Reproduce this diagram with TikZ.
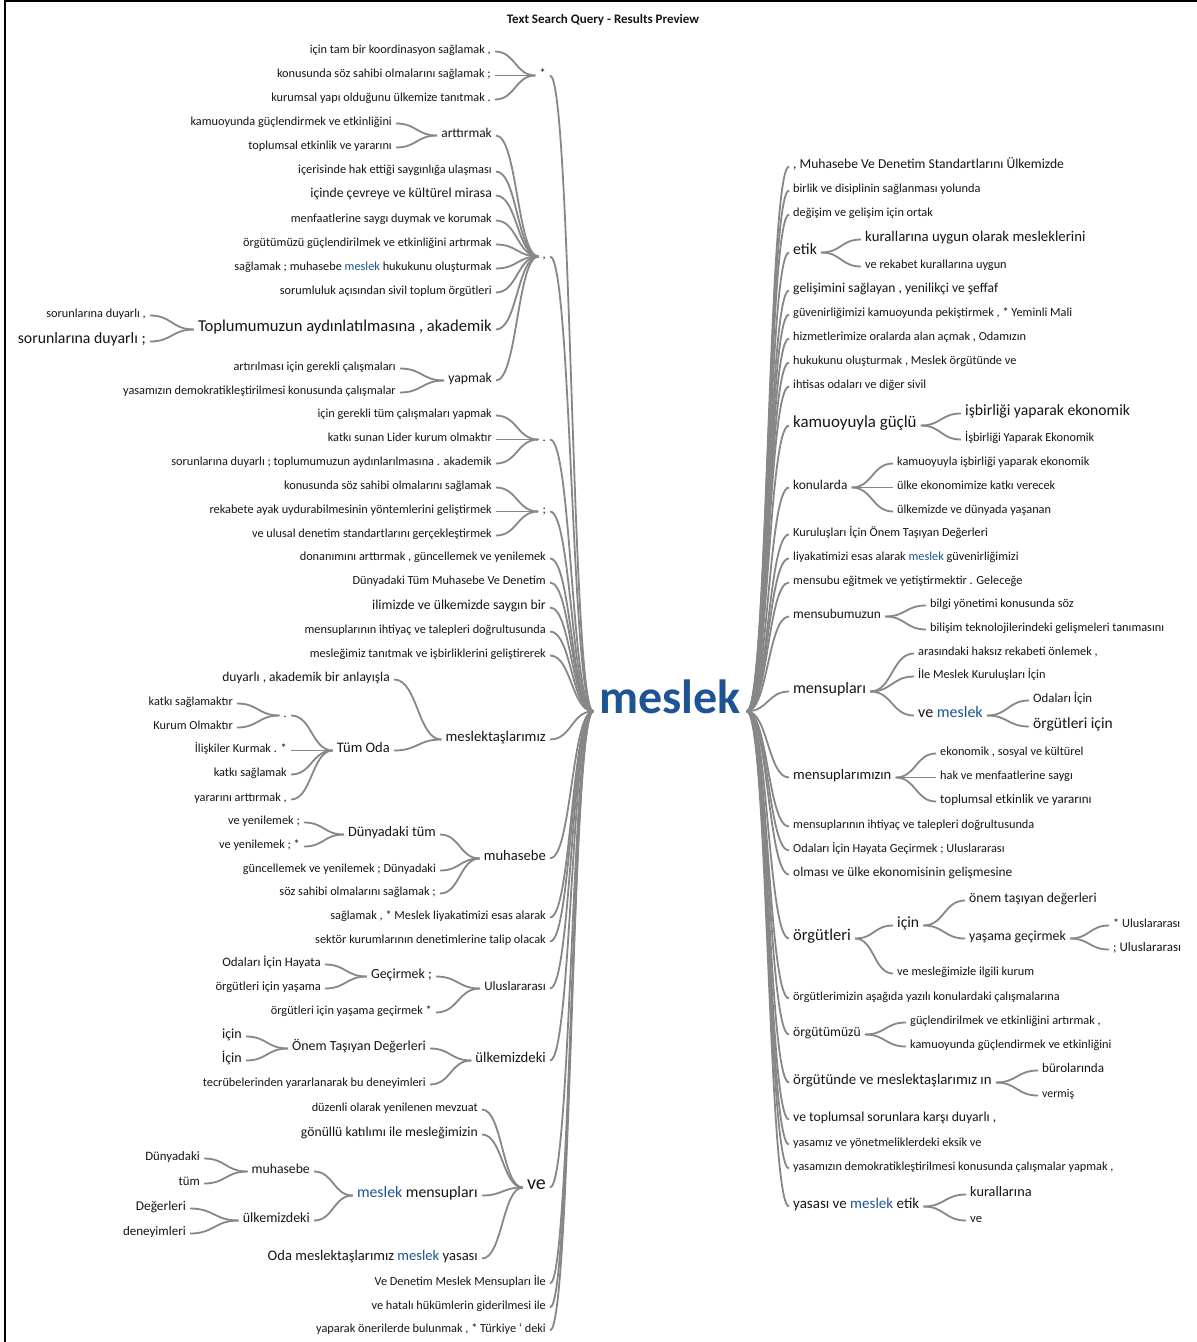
\documentclass[tikz,border=0pt]{standalone}
\usepackage{fontspec}
\setmainfont{Carlito}
\usetikzlibrary{calc}
\definecolor{mblue}{RGB}{31,84,148}
\definecolor{linegray}{RGB}{135,135,135}
\definecolor{txt}{RGB}{22,22,22}
\newcommand\fz[1]{\fontsize{#1}{#1}\selectfont}
\newcommand\hl[1]{\textcolor{mblue}{#1}}
% word nodes: left branch (anchored on the right) and right branch (anchored on the left)
\newcommand\Lt[5]{\node[w,anchor=mid east,font=\fz{#4}] (#1) at (#2,#3) {#5};}
\newcommand\Rt[5]{\node[w,anchor=mid west,font=\fz{#4}] (#1) at (#2,#3) {#5};}
% S-shaped connector from the east side of #1 to the west side of #2
\newcommand\cn[2]{\draw[conn] let \p1=(#1.mid east), \p2=(#2.mid west) in
  (\p1) .. controls ({0.5*\x1+0.5*\x2},\y1) and ({0.5*\x1+0.5*\x2},\y2) .. (\p2);}
\begin{document}
\begin{tikzpicture}[x=1pt,y=-1pt,
  w/.style={inner xsep=4pt,inner ysep=1pt,text=txt,yshift=-2.5pt},
  conn/.style={draw=linegray,line width=1.8pt}]
\useasboundingbox (0,0) rectangle (1197,1342);
\fill[white] (0,0) rectangle (1197,1342);
\draw[line width=1.3pt] (5,1342) -- (5,1) -- (1197,1);
\node[font=\fz{13}\bfseries,text=txt] (title) at (603,20) {Text Search Query - Results Preview};

% centre word
\node[inner xsep=6pt,inner ysep=0pt,anchor=center,font=\fz{48}\bfseries,text=mblue] (c) at (670,697) {meslek};

% ---------------- left branches ----------------
\Lt{a1}{550}{73}{12.3}{*}
\Lt{a1a}{495}{49}{12.3}{için tam bir koordinasyon sağlamak ,}
\Lt{a1b}{495}{73}{12.3}{konusunda söz sahibi olmalarını sağlamak ;}
\Lt{a1c}{495}{97}{12.3}{kurumsal yapı olduğunu ülkemize tanıtmak .}
\foreach \k in {a,b,c} {\cn{a1\k}{a1}}

\Lt{a2}{550}{254}{12.3}{,}
\Lt{a2a}{496}{133}{13.4}{arttırmak}
\Lt{a2a1}{396}{121}{12.3}{kamuoyunda güçlendirmek ve etkinliğini}
\Lt{a2a2}{396}{145}{12.3}{toplumsal etkinlik ve yararını}
\cn{a2a1}{a2a}\cn{a2a2}{a2a}
\Lt{a2b}{496}{169}{12.3}{içerisinde hak ettiği saygınlığa ulaşması}
\Lt{a2c}{496}{193}{13.7}{içinde çevreye ve kültürel mirasa}
\Lt{a2d}{496}{218}{12.3}{menfaatlerine saygı duymak ve korumak}
\Lt{a2e}{496}{242}{12.3}{örgütümüzü güçlendirilmek ve etkinliğini artırmak}
\Lt{a2f}{496}{266}{12.3}{sağlamak ; muhasebe \hl{meslek} hukukunu oluşturmak}
\Lt{a2g}{496}{290}{12.3}{sorumluluk açısından sivil toplum örgütleri}
\Lt{a2h}{496}{327}{16.6}{Toplumumuzun aydınlatılmasına , akademik}
\Lt{a2h1}{150}{313}{12.3}{sorunlarına duyarlı ,}
\Lt{a2h2}{150}{339}{15.8}{sorunlarına duyarlı ;}
\cn{a2h1}{a2h}\cn{a2h2}{a2h}
\Lt{a2i}{496}{378}{13.7}{yapmak}
\Lt{a2i1}{400}{366}{12.3}{artırılması için gerekli çalışmaları}
\Lt{a2i2}{400}{390}{12.3}{yasamızın demokratikleştirilmesi konusunda çalışmalar}
\cn{a2i1}{a2i}\cn{a2i2}{a2i}
\foreach \k in {a,b,c,d,e,f,g,h,i} {\cn{a2\k}{a2}}

\Lt{a3}{550}{437}{12.3}{.}
\Lt{a3a}{496}{413}{12.3}{için gerekli tüm çalışmaları yapmak}
\Lt{a3b}{496}{437}{12.3}{katkı sunan Lider kurum olmaktır}
\Lt{a3c}{496}{461}{12.3}{sorunlarına duyarlı ; toplumumuzun aydınlarılmasına . akademik}
\foreach \k in {a,b,c} {\cn{a3\k}{a3}}

\Lt{a4}{550}{509}{12.3}{;}
\Lt{a4a}{496}{485}{12.3}{konusunda söz sahibi olmalarını sağlamak}
\Lt{a4b}{496}{509}{12.3}{rekabete ayak uydurabilmesinin yöntemlerini geliştirmek}
\Lt{a4c}{496}{533}{12.3}{ve ulusal denetim standartlarını gerçekleştirmek}
\foreach \k in {a,b,c} {\cn{a4\k}{a4}}

\Lt{a5}{550}{556}{12.3}{donanımını arttırmak , güncellemek ve yenilemek}
\Lt{a6}{550}{580}{12.3}{Dünyadaki Tüm Muhasebe Ve Denetim}
\Lt{a7}{550}{605}{13.7}{ilimizde ve ülkemizde saygın bir}
\Lt{a8}{550}{629}{12.3}{mensuplarının ihtiyaç ve talepleri doğrultusunda}
\Lt{a9}{550}{653}{12.3}{mesleğimiz tanıtmak ve işbirliklerini geliştirerek}

\Lt{a10}{550}{737}{14.8}{meslektaşlarımız}
\Lt{a10a}{394}{677}{13.5}{duyarlı , akademik bir anlayışla}
\Lt{a10b}{394}{748}{14.5}{Tüm Oda}
\Lt{a10b1}{291}{713}{12.3}{.}
\Lt{a10b1a}{237}{701}{12.3}{katkı sağlamaktır}
\Lt{a10b1b}{237}{725}{12.3}{Kurum Olmaktır}
\cn{a10b1a}{a10b1}\cn{a10b1b}{a10b1}
\Lt{a10b2}{291}{748}{12.3}{İlişkiler Kurmak . *}
\Lt{a10b3}{291}{772}{12.3}{katkı sağlamak}
\Lt{a10b4}{291}{797}{12.3}{yararını arttırmak ,}
\foreach \k in {1,2,3,4} {\cn{a10b\k}{a10b}}
\cn{a10a}{a10}\cn{a10b}{a10}

\Lt{a11}{550}{856}{14.6}{muhasebe}
\Lt{a11a}{440}{832}{14.3}{Dünyadaki tüm}
\Lt{a11a1}{304}{820}{12.3}{ve yenilemek ;}
\Lt{a11a2}{304}{844}{12.3}{ve yenilemek ; *}
\cn{a11a1}{a11a}\cn{a11a2}{a11a}
\Lt{a11b}{440}{868}{12.3}{güncellemek ve yenilemek ; Dünyadaki}
\Lt{a11c}{440}{891}{12.3}{söz sahibi olmalarını sağlamak ;}
\foreach \k in {a,b,c} {\cn{a11\k}{a11}}

\Lt{a12}{550}{915}{12.3}{sağlamak , * Meslek liyakatimizi esas alarak}
\Lt{a13}{550}{939}{12.3}{sektör kurumlarının denetimlerine talip olacak}

\Lt{a14}{550}{986}{13}{Uluslararası}
\Lt{a14a}{436}{974}{13.9}{Geçirmek ;}
\Lt{a14a1}{325}{962}{12.9}{Odaları İçin Hayata}
\Lt{a14a2}{325}{986}{12.5}{örgütleri için yaşama}
\cn{a14a1}{a14a}\cn{a14a2}{a14a}
\Lt{a14b}{436}{1010}{12.3}{örgütleri için yaşama geçirmek *}
\cn{a14a}{a14}\cn{a14b}{a14}

\Lt{a15}{550}{1058}{14.7}{ülkemizdeki}
\Lt{a15a}{430}{1046}{13.9}{Önem Taşıyan Değerleri}
\Lt{a15a1}{246}{1034}{14}{için}
\Lt{a15a2}{246}{1058}{14}{İçin}
\cn{a15a1}{a15a}\cn{a15a2}{a15a}
\Lt{a15b}{430}{1082}{12.3}{tecrübelerinden yararlanarak bu deneyimleri}
\cn{a15a}{a15}\cn{a15b}{a15}

\Lt{a16}{550}{1185}{20}{ve}
\Lt{a16a}{482}{1107}{12.3}{düzenli olarak yenilenen mevzuat}
\Lt{a16b}{482}{1132}{13.7}{gönüllü katılımı ile mesleğimizin}
\Lt{a16c}{482}{1193}{15.8}{\hl{meslek} mensupları}
\Lt{a16c1}{314}{1169}{13.7}{muhasebe}
\Lt{a16c1a}{204}{1156}{12.8}{Dünyadaki}
\Lt{a16c1b}{204}{1181}{12.8}{tüm}
\cn{a16c1a}{a16c1}\cn{a16c1b}{a16c1}
\Lt{a16c2}{314}{1218}{14}{ülkemizdeki}
\Lt{a16c2a}{190}{1206}{13.4}{Değerleri}
\Lt{a16c2b}{190}{1231}{13}{deneyimleri}
\cn{a16c2a}{a16c2}\cn{a16c2b}{a16c2}
\cn{a16c1}{a16c}\cn{a16c2}{a16c}
\Lt{a16d}{482}{1256}{14.6}{Oda meslektaşlarımız \hl{meslek} yasası}
\foreach \k in {a,b,c,d} {\cn{a16\k}{a16}}

\Lt{a17}{550}{1281}{12.3}{Ve Denetim Meslek Mensupları İle}
\Lt{a18}{550}{1305}{12.3}{ve hatalı hükümlerin giderilmesi ile}
\Lt{a19}{550}{1328}{12.3}{yaparak önerilerde bulunmak , * Türkiye ‘ deki}

\foreach \i in {1,...,19} {\cn{a\i}{c}}

% ---------------- right branches ----------------
\Rt{b1}{789}{164}{13.6}{, Muhasebe Ve Denetim Standartlarını Ülkemizde}
\Rt{b2}{789}{188}{12.3}{birlik ve disiplinin sağlanması yolunda}
\Rt{b3}{789}{212}{12.3}{değişim ve gelişim için ortak}
\Rt{b4}{789}{250}{15.8}{etik}
\Rt{b4a}{861}{237}{14.8}{kurallarına uygun olarak mesleklerini}
\Rt{b4b}{861}{264}{12.3}{ve rekabet kurallarına uygun}
\cn{b4}{b4a}\cn{b4}{b4b}
\Rt{b5}{789}{288}{13.6}{gelişimini sağlayan , yenilikçi ve şeffaf}
\Rt{b6}{789}{312}{12.3}{güvenirliğimizi kamuoyunda pekiştirmek , * Yeminli Mali}
\Rt{b7}{789}{336}{12.3}{hizmetlerimize oralarda alan açmak , Odamızın}
\Rt{b8}{789}{360}{12.3}{hukukunu oluşturmak , Meslek örgütünde ve}
\Rt{b9}{789}{384}{12.3}{ihtisas odaları ve diğer sivil}
\Rt{b10}{789}{423}{16.9}{kamuoyuyla güçlü}
\Rt{b10a}{961}{411}{15.7}{işbirliği yaparak ekonomik}
\Rt{b10b}{961}{437}{12.3}{İşbirliği Yaparak Ekonomik}
\cn{b10}{b10a}\cn{b10}{b10b}
\Rt{b11}{789}{485}{13.4}{konularda}
\Rt{b11a}{893}{461}{12.3}{kamuoyuyla işbirliği yaparak ekonomik}
\Rt{b11b}{893}{485}{12.3}{ülke ekonomimize katkı verecek}
\Rt{b11c}{893}{509}{12.3}{ülkemizde ve dünyada yaşanan}
\foreach \k in {a,b,c} {\cn{b11}{b11\k}}
\Rt{b12}{789}{532}{12.3}{Kuruluşları İçin Önem Taşıyan Değerleri}
\Rt{b13}{789}{556}{12.3}{liyakatimizi esas alarak \hl{meslek} güvenirliğimizi}
\Rt{b14}{789}{580}{12.3}{mensubu eğitmek ve yetiştirmektir . Geleceğe}
\Rt{b15}{789}{614}{13.4}{mensubumuzun}
\Rt{b15a}{926}{603}{12.3}{bilgi yönetimi konusunda söz}
\Rt{b15b}{926}{627}{12.3}{bilişim teknolojilerindeki gelişmeleri tanımasını}
\cn{b15}{b15a}\cn{b15}{b15b}
\Rt{b16}{789}{689}{16}{mensupları}
\Rt{b16a}{914}{651}{12.3}{arasındaki haksız rekabeti önlemek ,}
\Rt{b16b}{914}{674}{12.3}{İle Meslek Kuruluşları İçin}
\Rt{b16c}{914}{713}{16}{ve \hl{meslek}}
\Rt{b16c1}{1029}{698}{12.8}{Odaları İçin}
\Rt{b16c2}{1029}{724}{15.5}{örgütleri için}
\cn{b16c}{b16c1}\cn{b16c}{b16c2}
\foreach \k in {a,b,c} {\cn{b16}{b16\k}}
\Rt{b17}{789}{775}{14.6}{mensuplarımızın}
\Rt{b17a}{936}{751}{12.3}{ekonomik , sosyal ve kültürel}
\Rt{b17b}{936}{775}{12.3}{hak ve menfaatlerine saygı}
\Rt{b17c}{936}{799}{13}{toplumsal etkinlik ve yararını}
\foreach \k in {a,b,c} {\cn{b17}{b17\k}}
\Rt{b18}{789}{824}{12.3}{mensuplarının ihtiyaç ve talepleri doğrultusunda}
\Rt{b19}{789}{848}{12.3}{Odaları İçin Hayata Geçirmek ; Uluslararası}
\Rt{b20}{789}{872}{13.4}{olması ve ülke ekonomisinin gelişmesine}
\Rt{b21}{789}{936}{16.5}{örgütleri}
\Rt{b21a}{893}{923}{15.6}{için}
\Rt{b21a1}{965}{898}{13.7}{önem taşıyan değerleri}
\Rt{b21a2}{965}{936}{13.8}{yaşama geçirmek}
\Rt{b21a2a}{1109}{923}{12.3}{* Uluslararası}
\Rt{b21a2b}{1109}{947}{13}{; Uluslararası}
\cn{b21a2}{b21a2a}\cn{b21a2}{b21a2b}
\cn{b21a}{b21a1}\cn{b21a}{b21a2}
\Rt{b21b}{893}{971}{12.3}{ve mesleğimizle ilgili kurum}
\cn{b21}{b21a}\cn{b21}{b21b}
\Rt{b22}{789}{996}{12.3}{örgütlerimizin aşağıda yazılı konulardaki çalışmalarına}
\Rt{b23}{789}{1032}{13.6}{örgütümüzü}
\Rt{b23a}{906}{1020}{12.3}{güçlendirilmek ve etkinliğini artırmak ,}
\Rt{b23b}{906}{1044}{12.3}{kamuoyunda güçlendirmek ve etkinliğini}
\cn{b23}{b23a}\cn{b23}{b23b}
\Rt{b24}{789}{1080}{14.8}{örgütünde ve meslektaşlarımız ın}
\Rt{b24a}{1038}{1068}{13.1}{bürolarında}
\Rt{b24b}{1038}{1093}{11.8}{vermiş}
\cn{b24}{b24a}\cn{b24}{b24b}
\Rt{b25}{789}{1117}{13.7}{ve toplumsal sorunlara karşı duyarlı ,}
\Rt{b26}{789}{1142}{12.3}{yasamız ve yönetmeliklerdeki eksik ve}
\Rt{b27}{789}{1166}{12.3}{yasamızın demokratikleştirilmesi konusunda çalışmalar yapmak ,}
\Rt{b28}{789}{1204}{15}{yasası ve \hl{meslek} etik}
\Rt{b28a}{966}{1192}{14.3}{kurallarına}
\Rt{b28b}{966}{1218}{12.6}{ve}
\cn{b28}{b28a}\cn{b28}{b28b}

\foreach \i in {1,...,28} {\cn{c}{b\i}}
\end{tikzpicture}
\end{document}
